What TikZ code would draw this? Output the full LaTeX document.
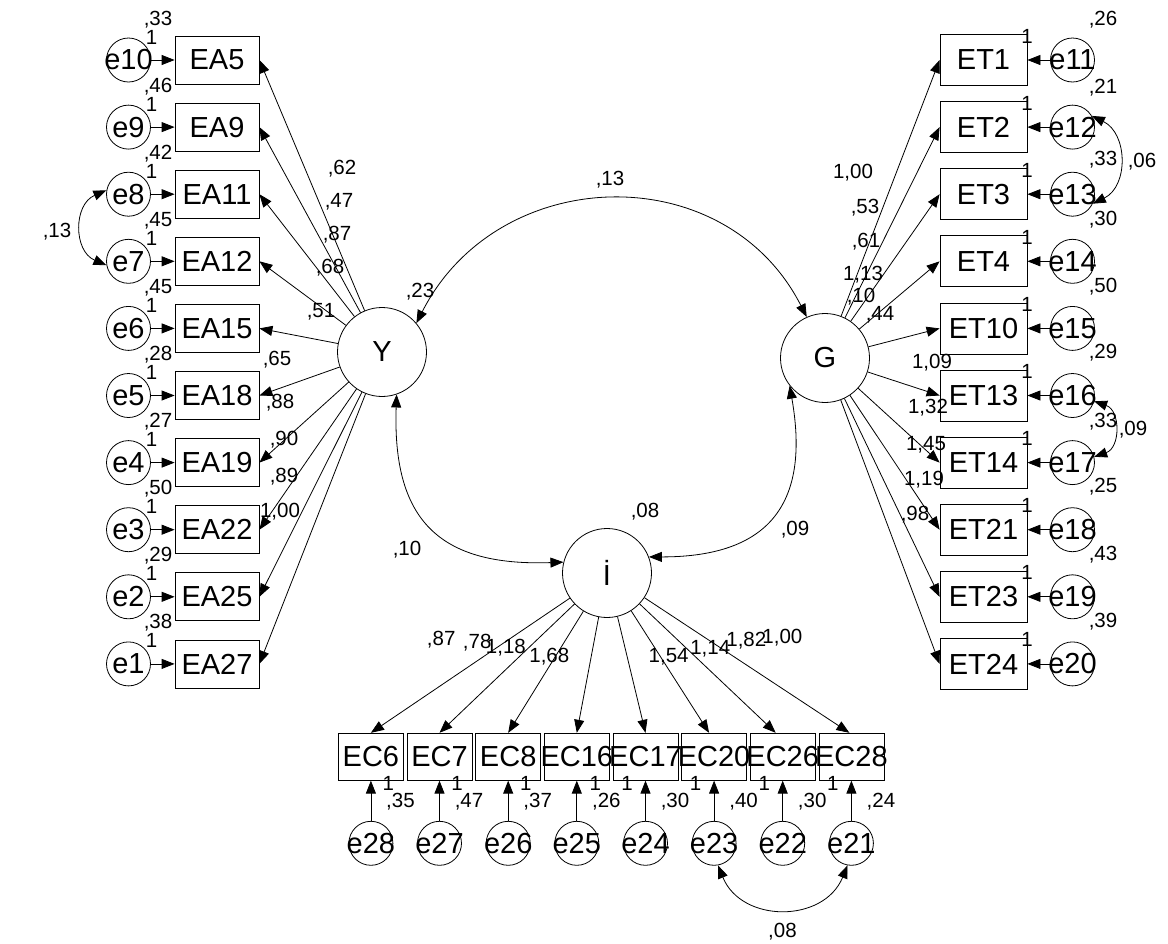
\documentclass[tikz,border=0pt]{standalone}
\usepackage{fontspec}
\setmainfont{Liberation Sans}
\usetikzlibrary{arrows.meta}
\newcommand{\zwbox}[1]{\makebox[0pt][c]{#1}}
\begin{document}
\begin{tikzpicture}[x=1pt,y=1pt,line width=0.8pt,
  >={Triangle[length=13pt,width=10pt]},
  big/.style={font=\fontsize{29}{31}\selectfont},
  obs/.style={draw, rectangle, inner sep=0pt, big},
  err/.style={draw, circle, minimum size=44pt, inner sep=0pt, big},
  lat/.style={draw, circle, minimum size=89pt, inner sep=0pt, big},
  lab/.style={inner sep=0pt, anchor=base, font=\fontsize{20.5}{22}\selectfont},
]
\fill[white] (0,0) rectangle (1168,-943);
\useasboundingbox (0,0) rectangle (1168,-943);

% latent variables
\node[lat] (Y) at (382,-352) {\zwbox{Y}};
\node[lat] (G) at (825,-358) {\zwbox{G}};
\node[lat] (I) at (607,-573) {\zwbox{İ}};

% left indicators
\foreach \n/\e/\yy/\v in {EA5/e10/60/{,33}, EA9/e9/127.1/{,46}, EA11/e8/194.2/{,42}, EA12/e7/261.3/{,45}, EA15/e6/328.4/{,45}, EA18/e5/395.5/{,28}, EA19/e4/462.6/{,27}, EA22/e3/529.7/{,50}, EA25/e2/596.8/{,29}, EA27/e1/663.9/{,38}}{
  \node[obs, minimum width=84pt, minimum height=48pt] (\n) at (217,-\yy) {\zwbox{\n}};
  \node[err] (\e) at (128.5,-\yy) {\zwbox{\e}};
  \draw[->] (\e) -- (\n);
  \draw[->] (Y) -- (\n.east);
  \node[lab] (v\e) at (158,-\yy+35) {\v};
  \node[lab] (one\e) at (151.5,-\yy+16) {1};
}

% right indicators
\foreach \n/\e/\yy/\v/\vy in {ET1/e11/60/{,26}/35, ET2/e12/127.1/{,21}/34, ET3/e13/194.2/{,33}/29, ET4/e14/261.3/{,30}/36, ET10/e15/328.4/{,50}/36, ET13/e16/395.5/{,29}/37.5, ET14/e17/462.6/{,33}/35.6, ET21/e18/529.7/{,25}/37.7, ET23/e19/596.8/{,43}/36.8, ET24/e20/663.9/{,39}/36.9}{
  \node[obs, minimum width=87pt, minimum height=51pt] (\n) at (983.5,-\yy) {\zwbox{\n}};
  \node[err] (\e) at (1072.5,-\yy) {\zwbox{\e}};
  \draw[->] (\e) -- (\n);
  \draw[->] (G) -- (\n.west);
  \node[lab] (v\e) at (1103,-\yy+\vy) {\v};
  \node[lab] (one\e) at (1027,-\yy+17) {1};
}

% bottom indicators
\foreach \n/\e/\xx/\v/\ox/\tx in {EC6/e28/370.9/{,35}/17.5/0, EC7/e27/439.5/{,47}/17.5/0, EC8/e26/508.2/{,37}/17.5/0, EC16/e25/576.8/{,26}/18.5/0, EC17/e24/645.5/{,30}/-18.5/0, EC20/e23/714.1/{,40}/-18.5/-5, EC26/e22/782.7/{,30}/-18.5/-7, EC28/e21/851.4/{,24}/-18.5/-2}{
  \node[obs, minimum width=65pt, minimum height=47pt] (\n) at (\xx,-756.7) {\zwbox{\n}};
  \node[err] (\e) at (\xx,-843.3) {\zwbox{\e}};
  \draw[->] (\e) -- (\n);
  \draw[->] (I) -- ([xshift=\tx pt]\n.north);
  \node[lab] (v\e) at (\xx+29.5,-807.5) {\v};
  \node[lab] (one\e) at (\xx+\ox,-790) {1};
}

% covariances
\draw[<->] (Y.40) .. controls +(63:180) and +(117:180) .. (G.114);
\draw[<->] (Y.-71) .. controls +(-92:125) and +(182:125) .. (I.166);
\draw[<->] (G.218) .. controls +(-80:130) and +(0:110) .. (I.21);
\draw[<->] (e8.170) .. controls +(203:36) and +(157:36) .. (e7.190);
\draw[<->] (e12.30) .. controls +(-26:40) and +(26:40) .. (e13.-25);
\draw[<->] (e16.-15) .. controls +(-19:28) and +(19:28) .. (e17.15);
\draw[<->] (e23.-80) .. controls +(-67.8:62.6) and +(-112.2:62.6) .. (e21.-100);

% loading labels (Y)
\foreach \t/\x/\y [count=\i] in {{,62}/342/174, {,47}/339/207, {,87}/337/240, {,68}/330/273, {,51}/321/317, {,65}/277/365, {,88}/280/408, {,90}/284/445, {,89}/284/482, {1,00}/280/517}
  \node[lab] (ly\i) at (\x,-\y) {\t};
% loading labels (G)
\foreach \t/\x/\y [count=\i] in {{1,00}/853/178, {,53}/865/213, {,61}/866/247, {1,13}/863/280, {,10}/861/302, {,44}/880/320, {1,09}/932/368, {1,32}/928/413, {1,45}/926/450, {1,19}/924/485, {,98}/915/520}
  \node[lab] (lg\i) at (\x,-\y) {\t};
% loading labels (I)
\foreach \t/\x/\y [count=\i] in {{,87}/441.2/645, {,78}/477.2/648, {1,18}/505.9/653, {1,68}/549.3/662, {1,54}/668.6/662, {1,14}/710.2/654, {1,82}/746.3/646.5, {1,00}/782.4/643}
  \node[lab] (li\i) at (\x,-\y) {\t};

% variances and covariance values
\node[lab] (varY) at (420,-297) {,23};
\node[lab] (varI) at (645,-517) {,08};
\node[lab] (cYG) at (610,-185) {,13};
\node[lab] (cYI) at (407,-555) {,10};
\node[lab] (cGI) at (795,-535) {,09};
\node[lab] (c87) at (57,-237) {,13};
\node[lab] (c1213) at (1142,-167) {,06};
\node[lab] (c1617) at (1133,-435) {,09};
\node[lab] (c2321) at (782.4,-937) {,08};
\end{tikzpicture}
\end{document}
